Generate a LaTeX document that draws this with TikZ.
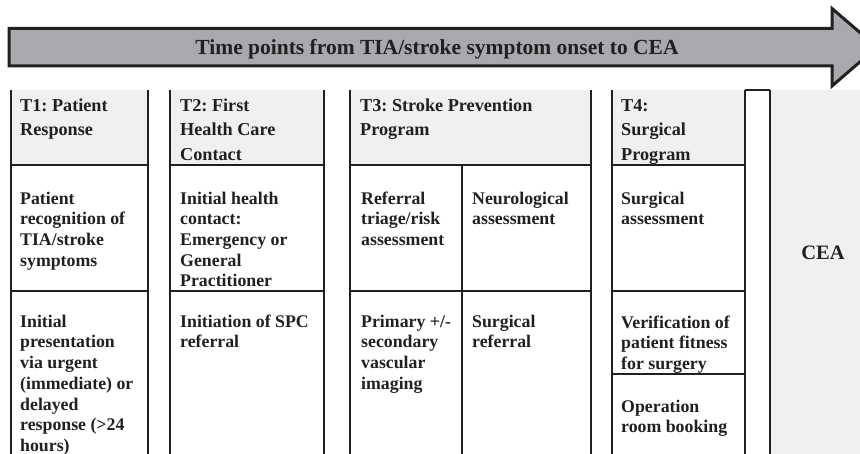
\documentclass[tikz,border=0pt]{standalone}
\usepackage{fontspec}
\setmainfont{Liberation Serif}
\frenchspacing
\definecolor{ink}{HTML}{231F20}
\definecolor{arrowgray}{HTML}{A7A9AC}
\definecolor{headgray}{HTML}{F0F0F0}
\newcommand{\fstrut}{\rule{0pt}{14pt}}
\begin{document}
\begin{tikzpicture}[x=1pt,y=-1pt,
  rule/.style={draw=ink,line width=1.3pt},
  thickrule/.style={draw=ink,line width=2pt},
  headfill/.style={fill=headgray},
  celltext/.style={anchor=north west,inner sep=0pt,align=left,text=ink,
    font=\fontsize{17.8}{20.7}\selectfont\bfseries\frenchspacing},
  headtext/.style={anchor=north west,inner sep=0pt,align=left,text=ink,
    font=\fontsize{18.2}{24.5}\selectfont\bfseries\frenchspacing}]
\useasboundingbox (0,0) rectangle (860,454);
\clip (0,0) rectangle (860,454);
% header fills
\fill[headfill] (11,90) rectangle (148,165);
\fill[headfill] (170,90) rectangle (324,165);
\fill[headfill] (350,90) rectangle (591,165);
\fill[headfill] (612,90) rectangle (745,165);
\fill[headfill] (770,90) rectangle (860,454);
% arrow
\draw[draw=ink,line width=3pt,fill=arrowgray,line join=miter]
  (9,28.5) -- (832,28.5) -- (832,8.5) -- (877,47.2) -- (832,86) -- (832,66) -- (9,66) -- cycle;
\node[anchor=base,inner sep=0pt,text=ink,font=\fontsize{21.5}{24}\selectfont\bfseries]
  (title) at (437,54.5) {Time points from TIA/stroke symptom onset to CEA};
% T1 column
\draw[rule] (11,90) -- (11,454);
\draw[rule] (148,90) -- (148,454);
\draw[rule] (11,165) -- (148,165);
\draw[rule] (11,291) -- (148,291);
% T2 column
\draw[rule] (170,90) -- (170,454);
\draw[rule] (324,90) -- (324,454);
\draw[rule] (170,165) -- (324,165);
\draw[rule] (170,291) -- (324,291);
% T3 column
\draw[rule] (350,90) -- (350,454);
\draw[rule] (591,90) -- (591,454);
\draw[rule] (462,165) -- (462,454);
\draw[thickrule] (350,165) -- (591,165);
\draw[thickrule] (350,291) -- (591,291);
% T4 column
\draw[rule] (612,90) -- (612,454);
\draw[rule] (745,90) -- (745,454);
\draw[rule] (612,165) -- (745,165);
\draw[rule] (612,291) -- (745,291);
\draw[rule] (612,374) -- (745,374);
% narrow box
\draw[rule] (745,90) -- (770,90);
\draw[rule] (770,90) -- (770,454);
% header texts
\node[headtext] (h1) at (20,97) {\fstrut T1: Patient\\Response};
\node[headtext] (h2) at (180,97) {\fstrut T2: First\\Health Care\\Contact};
\node[headtext] (h3) at (360,97) {\fstrut T3: Stroke Prevention\\Program};
\node[headtext] (h4) at (621,97) {\fstrut T4:\\Surgical\\Program};
% row 2
\node[celltext] (a1) at (20,190) {\fstrut Patient\\recognition of\\TIA/stroke\\symptoms};
\node[celltext] (a2) at (180,190) {\fstrut Initial health\\contact:\\Emergency or\\General\\Practitioner};
\node[celltext] (a3) at (361,190) {\fstrut Referral\\triage/risk\\assessment};
\node[celltext] (a4) at (472,190) {\fstrut Neurological\\assessment};
\node[celltext] (a5) at (621,190) {\fstrut Surgical\\assessment};
% row 3
\node[celltext] (b1) at (20,313) {\fstrut Initial\\presentation\\via urgent\\(immediate) or\\delayed\\response (>24\\hours)};
\node[celltext] (b2) at (180,313) {\fstrut Initiation of SPC\\referral};
\node[celltext] (b3) at (361,313) {\fstrut Primary +/-\\secondary\\vascular\\imaging};
\node[celltext] (b4) at (472,313) {\fstrut Surgical\\referral};
\node[celltext] (b5) at (621,314) {\fstrut Verification of\\patient fitness\\for surgery};
\node[celltext] (b6) at (621,398) {\fstrut Operation\\room booking};
% CEA
\node[anchor=base,inner sep=0pt,text=ink,font=\fontsize{20.5}{24}\selectfont\bfseries]
  (cea) at (823,260) {CEA};
\end{tikzpicture}
\end{document}
